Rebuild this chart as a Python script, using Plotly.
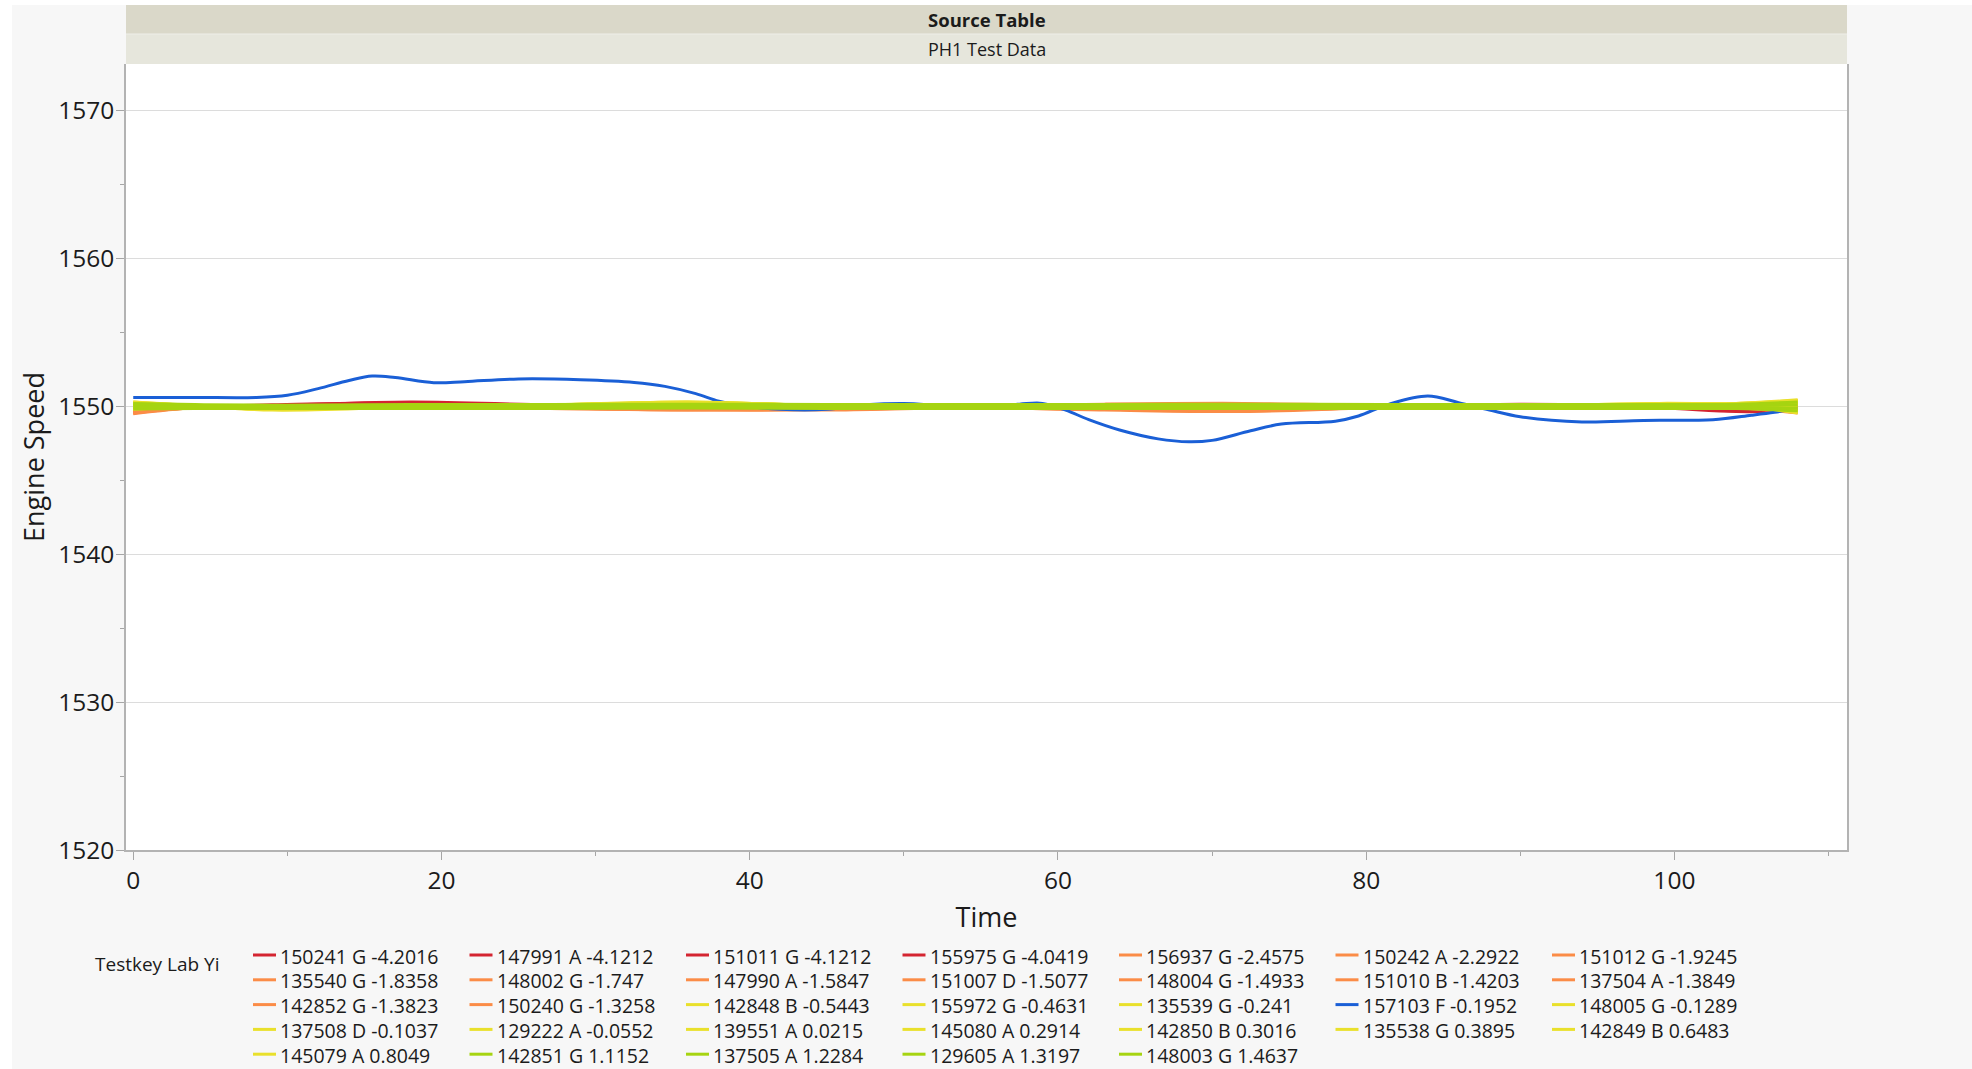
import plotly.graph_objects as go

# ---- Engine speed traces per test key (Time in s, Engine Speed in rpm) ----
time_common = [0, 4, 9, 18, 27, 36, 45, 54, 63, 72, 81, 90, 99, 104, 108]

series_names = [
    "150241 G -4.2016", "147991 A -4.1212", "151011 G -4.1212", "155975 G -4.0419",
    "156937 G -2.4575", "150242 A -2.2922", "151012 G -1.9245",
    "135540 G -1.8358", "148002 G -1.747", "147990 A -1.5847", "151007 D -1.5077",
    "148004 G -1.4933", "151010 B -1.4203", "137504 A -1.3849",
    "142852 G -1.3823", "150240 G -1.3258", "142848 B -0.5443", "155972 G -0.4631",
    "135539 G -0.241", "157103 F -0.1952", "148005 G -0.1289",
    "137508 D -0.1037", "129222 A -0.0552", "139551 A 0.0215", "145080 A 0.2914",
    "142850 B 0.3016", "135538 G 0.3895", "142849 B 0.6483",
    "145079 A 0.8049", "142851 G 1.1152", "137505 A 1.2284", "129605 A 1.3197",
    "148003 G 1.4637",
]

series_colors = (
    ["#d42531"] * 4
    + ["#fb8c47"] * 12
    + ["#e9e02b"] * 3
    + ["#1a5fd6"]
    + ["#e9e02b"] * 9
    + ["#a6d411"] * 4
)

speed = {
    "150241 G -4.2016": [1550.05, 1550.0, 1550.05, 1550.3, 1550.1, 1550.0, 1549.95, 1550.0, 1550.05, 1550.1, 1550.0, 1550.15, 1550.0, 1549.7, 1549.75],
    "147991 A -4.1212": [1549.9, 1549.95, 1550.0, 1550.2, 1550.05, 1549.95, 1550.0, 1549.95, 1550.0, 1550.05, 1550.05, 1550.1, 1549.9, 1549.65, 1549.7],
    "151011 G -4.1212": [1550.1, 1550.0, 1550.0, 1550.15, 1550.0, 1550.05, 1549.95, 1550.0, 1550.1, 1550.0, 1550.0, 1550.05, 1549.95, 1549.8, 1550.05],
    "155975 G -4.0419": [1549.95, 1550.0, 1550.1, 1550.25, 1550.05, 1550.0, 1550.0, 1550.05, 1550.0, 1549.95, 1550.05, 1550.1, 1550.05, 1549.9, 1550.2],
    "156937 G -2.4575": [1549.5, 1549.9, 1550.0, 1550.05, 1549.9, 1549.75, 1549.8, 1549.95, 1550.1, 1550.15, 1550.0, 1549.95, 1550.0, 1550.05, 1550.3],
    "150242 A -2.2922": [1549.55, 1549.95, 1550.0, 1549.95, 1549.85, 1549.8, 1549.75, 1549.9, 1549.75, 1549.65, 1549.9, 1550.0, 1550.0, 1549.9, 1549.6],
    "151012 G -1.9245": [1549.65, 1549.95, 1550.05, 1550.0, 1550.0, 1549.85, 1549.85, 1550.0, 1550.15, 1550.2, 1550.05, 1550.0, 1550.05, 1550.0, 1550.35],
    "135540 G -1.8358": [1549.7, 1550.0, 1549.95, 1550.0, 1549.9, 1549.8, 1549.9, 1549.95, 1549.8, 1549.7, 1549.95, 1550.0, 1549.95, 1550.0, 1549.8],
    "148002 G -1.747": [1549.8, 1550.0, 1550.0, 1550.05, 1550.0, 1549.95, 1549.9, 1550.05, 1550.1, 1550.1, 1550.0, 1550.05, 1550.0, 1550.05, 1550.25],
    "147990 A -1.5847": [1549.6, 1549.9, 1549.95, 1549.95, 1549.85, 1549.75, 1549.8, 1549.9, 1549.8, 1549.75, 1549.9, 1549.95, 1549.95, 1549.9, 1549.55],
    "151007 D -1.5077": [1549.75, 1549.95, 1550.05, 1550.05, 1550.0, 1549.9, 1549.9, 1550.0, 1550.05, 1550.05, 1550.0, 1550.0, 1550.05, 1550.1, 1550.4],
    "148004 G -1.4933": [1549.85, 1550.0, 1550.0, 1550.0, 1549.95, 1549.9, 1549.85, 1549.95, 1549.85, 1549.75, 1549.95, 1550.0, 1550.0, 1549.95, 1549.7],
    "151010 B -1.4203": [1549.7, 1549.95, 1550.0, 1550.05, 1550.0, 1549.95, 1549.95, 1550.05, 1550.1, 1550.05, 1550.0, 1550.05, 1550.05, 1550.0, 1550.1],
    "137504 A -1.3849": [1549.9, 1550.0, 1549.95, 1550.0, 1549.95, 1549.85, 1549.9, 1550.0, 1549.9, 1549.8, 1549.95, 1550.0, 1549.95, 1549.95, 1549.9],
    "142852 G -1.3823": [1549.55, 1549.9, 1550.0, 1550.0, 1549.95, 1549.8, 1549.85, 1549.95, 1550.0, 1550.05, 1550.0, 1549.95, 1550.0, 1550.05, 1550.15],
    "150240 G -1.3258": [1549.8, 1550.0, 1550.05, 1550.05, 1550.0, 1549.9, 1549.9, 1550.0, 1549.95, 1549.9, 1550.0, 1550.05, 1550.0, 1549.95, 1549.85],
    "142848 B -0.5443": [1550.3, 1550.05, 1549.75, 1549.95, 1550.1, 1550.3, 1550.05, 1550.05, 1550.05, 1550.1, 1550.05, 1550.0, 1550.15, 1550.2, 1550.4],
    "155972 G -0.4631": [1550.2, 1550.0, 1549.8, 1550.0, 1550.05, 1550.25, 1550.05, 1550.0, 1550.0, 1550.05, 1550.0, 1550.05, 1550.2, 1550.15, 1550.3],
    "135539 G -0.241": [1550.1, 1550.0, 1549.85, 1549.95, 1550.0, 1550.2, 1550.0, 1550.05, 1550.05, 1550.0, 1550.05, 1550.0, 1550.1, 1550.1, 1549.6],
    "148005 G -0.1289": [1549.9, 1549.95, 1549.9, 1550.0, 1550.05, 1550.15, 1549.95, 1549.95, 1550.0, 1550.05, 1550.0, 1549.95, 1550.05, 1550.05, 1549.7],
    "137508 D -0.1037": [1550.25, 1550.05, 1549.85, 1550.0, 1550.05, 1550.2, 1550.0, 1550.0, 1550.05, 1550.05, 1550.0, 1550.0, 1550.15, 1550.15, 1550.2],
    "129222 A -0.0552": [1549.85, 1549.95, 1549.95, 1549.95, 1550.0, 1550.1, 1549.95, 1549.9, 1549.95, 1550.0, 1550.0, 1549.95, 1549.95, 1550.0, 1549.65],
    "139551 A 0.0215": [1550.15, 1550.0, 1549.9, 1550.0, 1550.05, 1550.25, 1550.05, 1550.05, 1550.1, 1550.05, 1550.05, 1550.05, 1550.15, 1550.2, 1550.35],
    "145080 A 0.2914": [1549.95, 1549.95, 1549.8, 1549.95, 1550.0, 1550.15, 1550.0, 1549.95, 1550.0, 1550.0, 1549.95, 1550.0, 1550.1, 1550.1, 1549.8],
    "142850 B 0.3016": [1550.2, 1550.0, 1549.9, 1550.05, 1550.1, 1550.3, 1550.05, 1550.0, 1550.05, 1550.1, 1550.05, 1550.05, 1550.2, 1550.2, 1550.45],
    "135538 G 0.3895": [1549.8, 1549.95, 1549.85, 1549.95, 1549.95, 1550.1, 1549.95, 1549.95, 1550.0, 1549.95, 1550.0, 1549.95, 1550.05, 1550.05, 1549.55],
    "142849 B 0.6483": [1550.05, 1550.0, 1549.8, 1550.0, 1550.05, 1550.2, 1550.0, 1550.05, 1550.05, 1550.05, 1550.0, 1550.05, 1550.15, 1550.15, 1550.1],
    "145079 A 0.8049": [1550.3, 1550.05, 1549.9, 1550.0, 1550.1, 1550.25, 1550.05, 1550.0, 1550.05, 1550.05, 1550.05, 1550.0, 1550.1, 1550.15, 1550.0],
    "142851 G 1.1152": [1550.2, 1550.12, 1550.08, 1550.12, 1550.12, 1550.15, 1550.12, 1550.12, 1550.12, 1550.15, 1550.12, 1550.12, 1550.12, 1550.15, 1550.3],
    "137505 A 1.2284": [1549.82, 1549.85, 1549.85, 1549.85, 1549.85, 1549.88, 1549.85, 1549.85, 1549.85, 1549.85, 1549.85, 1549.85, 1549.85, 1549.85, 1549.7],
    "129605 A 1.3197": [1550.1, 1550.05, 1550.02, 1550.05, 1550.05, 1550.06, 1550.05, 1550.02, 1550.05, 1550.05, 1550.02, 1550.05, 1550.05, 1550.05, 1550.1],
    "148003 G 1.4637": [1549.95, 1549.94, 1549.93, 1549.94, 1549.94, 1549.96, 1549.94, 1549.94, 1549.94, 1549.94, 1549.94, 1549.94, 1549.94, 1549.94, 1549.88],
}

# The 157103 F run wanders much more, so it is sampled on its own time grid
time_157103 = [0, 4, 8, 10, 12, 14, 15.5, 17, 19.5, 21.5, 25, 29, 32.5, 34.5, 36.5, 38, 39.5,
               42, 45, 47.5, 50, 52.5, 55, 57.5, 59, 60.5, 62, 64, 66.5, 68.5, 70, 72.5,
               74.5, 78, 79.5, 81.5, 84, 86, 88, 90, 94, 98, 102.5, 105, 106.5, 108]
speed["157103 F -0.1952"] = [
    1550.6, 1550.6, 1550.6, 1550.75, 1551.2, 1551.75, 1552.05, 1551.95, 1551.6, 1551.67,
    1551.85, 1551.8, 1551.62, 1551.35, 1550.86, 1550.35, 1550.05, 1549.8, 1549.8, 1550.1,
    1550.2, 1550.05, 1549.95, 1550.15, 1550.2, 1549.75, 1549.1, 1548.4, 1547.8, 1547.6,
    1547.7, 1548.35, 1548.8, 1549.0, 1549.35, 1550.15, 1550.7, 1550.25, 1549.75, 1549.3,
    1548.95, 1549.05, 1549.1, 1549.4, 1549.6, 1549.85,
]

y_ticks = [1520, 1530, 1540, 1550, 1560, 1570]
x_ticks = [0, 20, 40, 60, 80, 100]

FONT = "Open Sans, Noto Sans, Liberation Sans, sans-serif"
INK = "#1b1b1b"

fig = go.Figure()
for name, color in zip(series_names, series_colors):
    t = time_157103 if name.startswith("157103") else time_common
    fig.add_trace(go.Scatter(
        x=t, y=speed[name], name=name, mode="lines",
        line=dict(color=color, width=3, shape="spline", smoothing=1.0),
        hoverinfo="x+y+name", showlegend=False,
    ))

W, H = 1972, 1069
ML, MR, MT, MB = 126, 125, 64, 219
PW, PH = W - ML - MR, H - MT - MB


def px_x(px):
    return (px - ML) / PW


def px_y(py):
    return (H - MB - py) / PH


shapes = [
    # header bands above the plot
    dict(type="rect", xref="paper", yref="paper", x0=0, x1=1, y0=px_y(34), y1=px_y(5),
         fillcolor="#dad8c9", line=dict(width=0), layer="above"),
    dict(type="rect", xref="paper", yref="paper", x0=0, x1=1, y0=px_y(64), y1=px_y(34),
         fillcolor="#e6e6dc", line=dict(width=0), layer="above"),
    dict(type="line", xref="paper", yref="paper", x0=0, x1=1, y0=px_y(34), y1=px_y(34),
         line=dict(color="#eeeee8", width=1), layer="above"),
    # white margins round the grey page
    dict(type="rect", xref="paper", yref="paper", x0=px_x(0), x1=px_x(12), y0=px_y(H), y1=px_y(0),
         fillcolor="white", line=dict(width=0), layer="above"),
    dict(type="rect", xref="paper", yref="paper", x0=px_x(0), x1=px_x(W), y0=px_y(5), y1=px_y(0),
         fillcolor="white", line=dict(width=0), layer="above"),
]

annotations = [
    dict(text="<b>Source Table</b>", xref="paper", yref="paper", x=0.5, y=px_y(19.5),
         showarrow=False, font=dict(family=FONT, size=18.5, color=INK), xanchor="center", yanchor="middle"),
    dict(text="PH1 Test Data", xref="paper", yref="paper", x=0.5, y=px_y(49),
         showarrow=False, font=dict(family=FONT, size=18, color=INK), xanchor="center", yanchor="middle"),
    dict(text="Testkey Lab Yi", xref="paper", yref="paper", x=px_x(93), y=px_y(964),
         showarrow=False, font=dict(family=FONT, size=19, color=INK), xanchor="left", yanchor="middle"),
]

# Key laid out in a 7-column grid under the axis
LEG_X0, LEG_DX = 253, 216.5
LEG_Y0, LEG_DY = 955, 24.8
for i, (name, color) in enumerate(zip(series_names, series_colors)):
    row, col = divmod(i, 7)
    lx = LEG_X0 + col * LEG_DX
    ly = LEG_Y0 + row * LEG_DY
    shapes.append(dict(type="line", xref="paper", yref="paper",
                       x0=px_x(lx), x1=px_x(lx + 23), y0=px_y(ly), y1=px_y(ly),
                       line=dict(color=color, width=3), layer="above"))
    annotations.append(dict(text=name, xref="paper", yref="paper", x=px_x(lx + 25), y=px_y(ly + 1),
                            showarrow=False, xanchor="left", yanchor="middle",
                            font=dict(family=FONT, size=19.5, color=INK)))

axis_common = dict(
    showline=True, linecolor="#b3b3b3", linewidth=1.5,
    ticks="outside", ticklen=8, tickcolor="#a6a6a6", tickwidth=1,
    tickfont=dict(family=FONT, size=24.5, color=INK),
    zeroline=False,
)

fig.update_layout(
    width=W, height=H,
    margin=dict(l=ML, r=MR, t=MT, b=MB, pad=0, autoexpand=False),
    paper_bgcolor="#f7f7f7",
    plot_bgcolor="white",
    font=dict(family=FONT, color=INK),
    shapes=shapes,
    annotations=annotations,
    showlegend=False,
    xaxis=dict(
        axis_common,
        range=[-0.47, 111.2], tickvals=x_ticks, showgrid=False,
        minor=dict(dtick=10, tick0=0, ticks="outside", ticklen=4, tickcolor="#a6a6a6", showgrid=False),
        title=dict(text="Time", font=dict(family=FONT, size=27, color=INK), standoff=13),
    ),
    yaxis=dict(
        axis_common,
        range=[1520, 1573.15], tickvals=y_ticks, mirror=True,
        showgrid=True, gridcolor="#dcdcdc", gridwidth=1,
        ticklabelstandoff=-3,
        minor=dict(dtick=5, tick0=1520, ticks="outside", ticklen=4, tickcolor="#a6a6a6", showgrid=False),
        title=dict(text="Engine Speed", font=dict(family=FONT, size=27, color=INK), standoff=6),
    ),
)

fig.write_html("out.html")
